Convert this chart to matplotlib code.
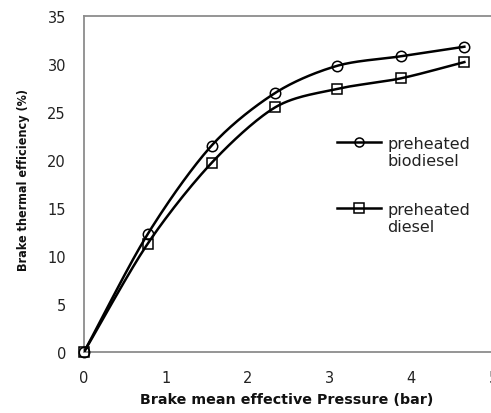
import numpy as np
import matplotlib
matplotlib.use("Agg")
import matplotlib.pyplot as plt
from matplotlib.lines import Line2D

bmep = [0.0, 0.78, 1.56, 2.34, 3.09, 3.87, 4.65]
bte_biodiesel = [0.0, 12.3, 21.5, 27.0, 29.8, 30.8, 31.8]
bte_diesel = [0.0, 11.3, 19.7, 25.5, 27.4, 28.5, 30.2]
series_labels = ["preheated\nbiodiesel", "preheated\ndiesel"]
xticks = [0, 1, 2, 3, 4, 5]
yticks = [0, 5, 10, 15, 20, 25, 30, 35]


def smooth(x, y, n=30):
    # Catmull-Rom style smoothing like spreadsheet "smoothed line"
    x = np.asarray(x, float); y = np.asarray(y, float)
    P = np.column_stack([x, y])
    P = np.vstack([P[0] - (P[1] - P[0]), P, P[-1] + (P[-1] - P[-2])])
    out = []
    for i in range(1, len(P) - 2):
        p0, p1, p2, p3 = P[i - 1], P[i], P[i + 1], P[i + 2]
        t = np.linspace(0, 1, n)[:, None]
        m1 = (p2 - p0) / 2 * 0.9
        m2 = (p3 - p1) / 2 * 0.9
        h00 = 2 * t**3 - 3 * t**2 + 1
        h10 = t**3 - 2 * t**2 + t
        h01 = -2 * t**3 + 3 * t**2
        h11 = t**3 - t**2
        seg = h00 * p1 + h10 * m1 + h01 * p2 + h11 * m2
        out.append(seg if i == 1 else seg[1:])
    S = np.vstack(out)
    return S[:, 0], S[:, 1]


W, H = 491, 414
fig = plt.figure(figsize=(W / 100, H / 100), dpi=100)
ax = fig.add_axes([84 / W, 1 - 353 / H, (493 - 84) / W, (353 - 17) / H])

for yv, mk, ms in [(bte_biodiesel, "o", 7.5), (bte_diesel, "s", 7.5)]:
    sx, sy = smooth(bmep, yv)
    ax.plot(sx, sy, color="black", lw=1.8, zorder=3)
    ax.plot(bmep, yv, ls="none", marker=mk, ms=ms, mfc="none", mec="black",
            mew=1.1, zorder=4, clip_on=False)

ax.set_xlim(0, 5)
ax.set_ylim(0, 35)
ax.set_xticks(xticks)
ax.set_yticks(yticks)
ax.tick_params(length=0, labelsize=10.5, colors="#222222")
ax.tick_params(axis="x", pad=13)
ax.tick_params(axis="y", pad=13)
for s in ["left", "top", "bottom"]:
    ax.spines[s].set_color("#8c8c8c")
    ax.spines[s].set_linewidth(1.3)
ax.spines["right"].set_visible(False)

ax.set_xlabel("Brake mean effective Pressure (bar)", fontsize=10.3,
              fontweight="bold", labelpad=8, color="#111111")
ax.xaxis.set_label_coords(287 / W, 1 - 400 / H, transform=fig.transFigure)
ax.xaxis.label.set_va("center")
fig.text(24 / W, 1 - 180 / H, "Brake thermal efficiency (%)", rotation=90,
         fontsize=9, fontweight="bold", ha="center", va="center",
         fontstretch="condensed", family="Liberation Sans Narrow",
         color="#111111")

blank = Line2D([], [], ls="none")
h1 = Line2D([], [], color="black", lw=1.8, marker="o", ms=6.5, mfc="none",
            mec="black", mew=1.1)
h2 = Line2D([], [], color="black", lw=1.8, marker="s", ms=6.5, mfc="none",
            mec="black", mew=1.1)
legs = []
for h, lab, ytop in [(h1, series_labels[0], 137), (h2, series_labels[1], 203)]:
    parts = lab.split("\n")
    leg = ax.legend([h, blank], parts, loc="upper left",
                    bbox_to_anchor=(337 / W, 1 - ytop / H),
                    bbox_transform=fig.transFigure, frameon=False,
                    fontsize=11.5, handlelength=2.75, handletextpad=0.4,
                    labelspacing=0.12, borderpad=0, borderaxespad=0)
    for t in leg.get_texts():
        t.set_color("#222222")
    legs.append(leg)
ax.add_artist(legs[0])

fig.savefig("out.png", dpi=100)
